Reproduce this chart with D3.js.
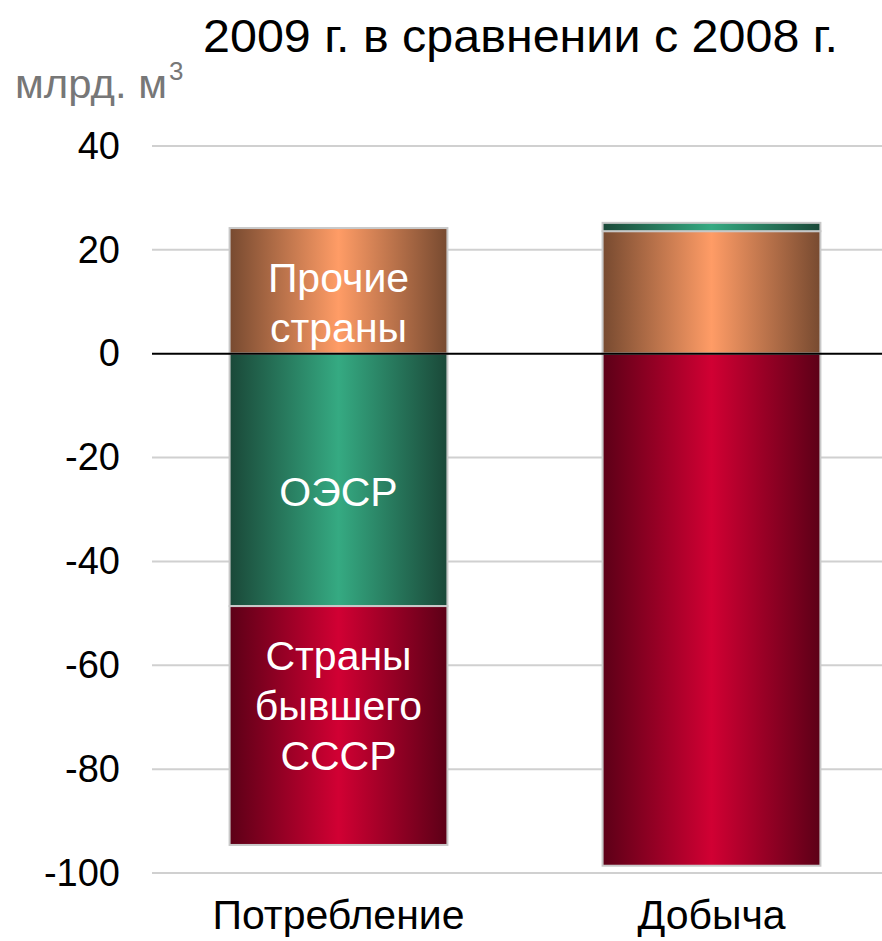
<!DOCTYPE html>
<html>
<head>
<meta charset="utf-8">
<script src="https://cdn.jsdelivr.net/npm/d3@7"></script>
<style>
  body { margin: 0; background: #fff; }
  text { font-family: "Liberation Sans", Arial, sans-serif; }
</style>
</head>
<body>
<div id="chart"></div>
<script>
var width = 882, height = 941;

// data
var categories = ["Потребление", "Добыча"];
var seriesNames = ["Страны бывшего СССР", "ОЭСР", "Прочие страны"];
var ussr   = [-46.0, -98.6];
var oecd   = [-48.6, 1.6];
var others = [24.2, 23.6];
var yTicks = [40, 20, 0, -20, -40, -60, -80, -100];

var margin = {left: 152, top: 146, bottom: 873};

var svg = d3.select("#chart").append("svg")
  .attr("width", width).attr("height", height);

var y = d3.scaleLinear().domain([-100, 40]).range([margin.bottom, margin.top]);
var x = d3.scaleBand().domain(categories).range([margin.left, 898])
  .paddingInner(0.416).paddingOuter(0.208);

// gradients
var grads = {
  red:   ["#5c0017", "#d10033"],
  green: ["#1a4838", "#35aa82"],
  brown: ["#774a30", "#ff9c66"]
};
var defs = svg.append("defs");
Object.keys(grads).forEach(function(k) {
  var g = defs.append("linearGradient").attr("id", "g_" + k)
    .attr("x1", "0%").attr("x2", "100%").attr("y1", "0%").attr("y2", "0%");
  g.append("stop").attr("offset", "0%").attr("stop-color", grads[k][0]);
  g.append("stop").attr("offset", "50%").attr("stop-color", grads[k][1]);
  g.append("stop").attr("offset", "100%").attr("stop-color", grads[k][0]);
});

// gridlines
svg.append("g").selectAll("line").data(yTicks.filter(function(d){ return d != 0; }))
  .enter().append("line")
  .attr("x1", margin.left).attr("x2", width)
  .attr("y1", function(d){ return y(d); }).attr("y2", function(d){ return y(d); })
  .attr("stroke", "#d0d0d0").attr("stroke-width", 2);

// stacked segments; negatives stack down from zero, positives up
var segs = [];
categories.forEach(function(c, i) {
  var order = [{v: others[i], col: "brown"}, {v: oecd[i], col: "green"}, {v: ussr[i], col: "red"}];
  var pos = 0, neg = 0;
  order.forEach(function(s) {
    var y0, y1;
    if (s.v >= 0) { y0 = pos; y1 = pos + s.v; pos = y1; }
    else { y0 = neg; y1 = neg + s.v; neg = y1; }
    segs.push({cat: c, y0: y0, y1: y1, col: s.col});
  });
});

svg.append("g").selectAll("rect").data(segs).enter().append("rect")
  .attr("x", function(d){ return x(d.cat); })
  .attr("width", x.bandwidth())
  .attr("y", function(d){ return y(Math.max(d.y0, d.y1)); })
  .attr("height", function(d){ return Math.abs(y(d.y0) - y(d.y1)); })
  .attr("fill", function(d){ return "url(#g_" + d.col + ")"; })
  .attr("stroke", "#c8c8c8").attr("stroke-width", 2);

// zero line
svg.append("line")
  .attr("x1", margin.left).attr("x2", width)
  .attr("y1", y(0)).attr("y2", y(0))
  .attr("stroke", "#000").attr("stroke-width", 2);

// y axis labels
var yAxis = d3.axisLeft(y).tickValues(yTicks).tickSize(0).tickPadding(32)
  .tickFormat(function(d){ return String(d); });
var ya = svg.append("g").attr("transform", "translate(" + margin.left + ",0)").call(yAxis);
ya.select(".domain").remove();
ya.selectAll("text").attr("font-size", 38).attr("fill", "#000")
  .style("font-family", "'Liberation Sans', Arial, sans-serif");

// x axis labels
var xAxis = d3.axisBottom(x).tickSize(0).tickPadding(27);
var xa = svg.append("g").attr("transform", "translate(0," + margin.bottom + ")").call(xAxis);
xa.select(".domain").remove();
xa.selectAll("text").attr("font-size", 41).attr("fill", "#000")
  .style("font-family", "'Liberation Sans', Arial, sans-serif");

// labels inside first bar
var c0 = x(categories[0]) + x.bandwidth() / 2;
var inLabels = [
  {lines: ["Прочие", "страны"], mid: others[0] / 2, shift: 12},
  {lines: ["ОЭСР"], mid: oecd[0] / 2, shift: 12},
  {lines: ["Страны", "бывшего", "СССР"], mid: oecd[0] + ussr[0] / 2, shift: -20}
];
inLabels.forEach(function(l) {
  var t = svg.append("text").attr("x", c0).attr("text-anchor", "middle")
    .attr("fill", "#fff").attr("font-size", 41);
  var n = l.lines.length;
  l.lines.forEach(function(s, j) {
    t.append("tspan").attr("x", c0)
      .attr("y", y(l.mid) + l.shift + (j - (n - 1) / 2) * 50 + 14).text(s);
  });
});

// title
svg.append("text").attr("x", 203).attr("y", 52)
  .attr("font-size", 46).attr("fill", "#000")
  .attr("textLength", 635).attr("lengthAdjust", "spacingAndGlyphs")
  .text("2009 г. в сравнении с 2008 г.");

// unit
var unit = svg.append("text").attr("x", 15).attr("y", 98)
  .attr("font-size", 41).attr("fill", "#777");
unit.append("tspan").attr("textLength", 152).attr("lengthAdjust", "spacingAndGlyphs").text("млрд. м");
unit.append("tspan").attr("font-size", 26).attr("dy", -18).attr("dx", 2).text("3");
</script>
</body>
</html>
